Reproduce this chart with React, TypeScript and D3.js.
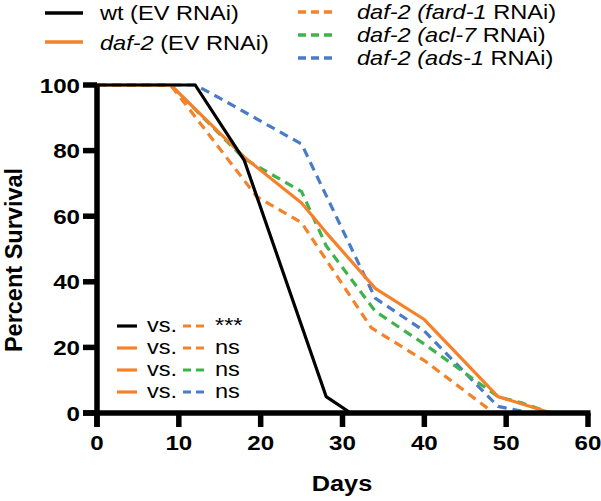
import React from "react";
import * as d3 from "d3";

const wtDays = [0, 12, 18, 28, 31, 60];
const wtSurv = [100, 100, 77, 5, 0, 0];
const daf2Days = [0, 9, 18, 25, 28, 34, 40, 49, 55.5, 60];
const daf2Surv = [100, 100, 78, 64, 55, 38, 28.5, 5, 0, 0];
const fard1Days = [0, 9, 19.5, 25, 33.5, 40, 48.5, 60];
const fard1Surv = [100, 100, 66, 58, 26, 16, 0, 0];
const acl7Days = [0, 9, 18, 25, 28, 34, 40, 49, 52, 55.5, 60];
const acl7Surv = [100, 100, 77.5, 67.5, 51, 31, 21, 5, 3, 0, 0];
const ads1Days = [0, 12, 15, 25, 34, 40, 49, 53, 60];
const ads1Surv = [100, 100, 96, 82, 35, 25, 2, 0, 0];

const xTicks = [0, 10, 20, 30, 40, 50, 60];
const yTicks = [0, 20, 40, 60, 80, 100];
const statRows = [
  { a: "daf2", b: "fard1", label: "***", first: "wt" },
  { a: "daf2", b: "fard1", label: "ns" },
  { a: "daf2", b: "acl7", label: "ns" },
  { a: "daf2", b: "ads1", label: "ns" },
];

const BLACK = "#000";
const ORANGE = "#F5822A";
const GREEN = "#3FB34B";
const BLUE = "#4A7CC6";
const FONT = "Liberation Sans, Arial, Helvetica, sans-serif";
const SX = 1.15;

const x = d3.scaleLinear().domain([0, 60]).range([97, 588]);
const y = d3.scaleLinear().domain([0, 100]).range([413, 85]);
const line = d3.line<[number, number]>().x((d) => x(d[0])).y((d) => y(d[1]));

const zip = (a: number[], b: number[]) => a.map((v, i) => [v, b[i]] as [number, number]);

function T({ x: tx, y: ty, size, weight = "normal", anchor = "start", children }: any) {
  return (
    <g transform={`translate(${tx},${ty}) scale(${SX},1)`}>
      <text fontFamily={FONT} fontSize={size} fontWeight={weight} textAnchor={anchor} fill="#000">
        {children}
      </text>
    </g>
  );
}

export default function App() {
  const series = [
    { d: zip(ads1Days, ads1Surv), c: BLUE, dash: "9,6" },
    { d: zip(acl7Days, acl7Surv), c: GREEN, dash: "9,6" },
    { d: zip(fard1Days, fard1Surv), c: ORANGE, dash: "9,6" },
    { d: zip(daf2Days, daf2Surv), c: ORANGE, dash: null },
    { d: zip(wtDays, wtSurv), c: BLACK, dash: null },
  ];
  const colorOf: any = { wt: BLACK, daf2: ORANGE, fard1: ORANGE, acl7: GREEN, ads1: BLUE };
  return (
    <svg width={601} height={501} style={{ position: "absolute", left: 0, top: 0, background: "#fff" }}>
      {/* top legend */}
      <line x1={45} x2={83} y1={13} y2={13} stroke={BLACK} strokeWidth={3.5} />
      <T x={100} y={20} size={20.5}>wt (EV RNAi)</T>
      <line x1={45} x2={83} y1={42} y2={42} stroke={ORANGE} strokeWidth={3.5} />
      <T x={100} y={50} size={20.5}>
        <tspan fontStyle="italic">daf-2</tspan> (EV RNAi)
      </T>
      {[
        { c: ORANGE, g: "fard-1" },
        { c: GREEN, g: "acl-7" },
        { c: BLUE, g: "ads-1" },
      ].map((r, i) => (
        <g key={i}>
          <line x1={298} x2={337} y1={12 + i * 23} y2={12 + i * 23} stroke={r.c} strokeWidth={3.5} strokeDasharray="8,5" />
          <T x={357} y={19 + i * 23} size={20.5}>
            <tspan fontStyle="italic">daf-2 (</tspan>
            <tspan fontStyle="italic">{r.g}</tspan> RNAi)
          </T>
        </g>
      ))}

      {/* data */}
      {series.map((s, i) => (
        <path
          key={i}
          d={line(s.d) || ""}
          fill="none"
          stroke={s.c}
          strokeWidth={3.2}
          strokeDasharray={s.dash || undefined}
          strokeLinejoin="round"
        />
      ))}

      {/* axes */}
      <line x1={x(0)} x2={x(0)} y1={y(100)} y2={y(0) + 14} stroke="#000" strokeWidth={5.5} />
      <line x1={x(0) - 14} x2={x(60) + 2.5} y1={y(0)} y2={y(0)} stroke="#000" strokeWidth={5.5} />
      {yTicks.map((t) => (
        <g key={t}>
          <line x1={x(0) - 14} x2={x(0)} y1={y(t)} y2={y(t)} stroke="#000" strokeWidth={5.5} />
          <T x={80} y={y(t) + 7.5} size={21} weight="bold" anchor="end">{t}</T>
        </g>
      ))}
      {xTicks.map((t) => (
        <g key={t}>
          <line x1={x(t)} x2={x(t)} y1={y(0)} y2={y(0) + 14} stroke="#000" strokeWidth={5.5} />
          <T x={x(t)} y={450} size={21} weight="bold" anchor="middle">{t}</T>
        </g>
      ))}
      <T x={342} y={491} size={22} weight="bold" anchor="middle">Days</T>
      <g transform="translate(22,260) rotate(-90)">
        <text fontFamily={FONT} fontSize={23.5} fontWeight="bold" textAnchor="middle" fill="#000">
          Percent Survival
        </text>
      </g>

      {/* stats legend */}
      {statRows.map((r, i) => {
        const yy = 326 + i * 22;
        return (
          <g key={i}>
            <line x1={117} x2={137} y1={yy} y2={yy} stroke={r.first ? colorOf[r.first] : colorOf[r.a]} strokeWidth={3.2} />
            <T x={147} y={yy + 6} size={20.5}>vs.</T>
            <line x1={183} x2={205} y1={yy} y2={yy} stroke={colorOf[r.b]} strokeWidth={3.2} strokeDasharray="8,5" />
            <T x={215} y={yy + 6} size={20.5}>{r.label}</T>
          </g>
        );
      })}
    </svg>
  );
}
